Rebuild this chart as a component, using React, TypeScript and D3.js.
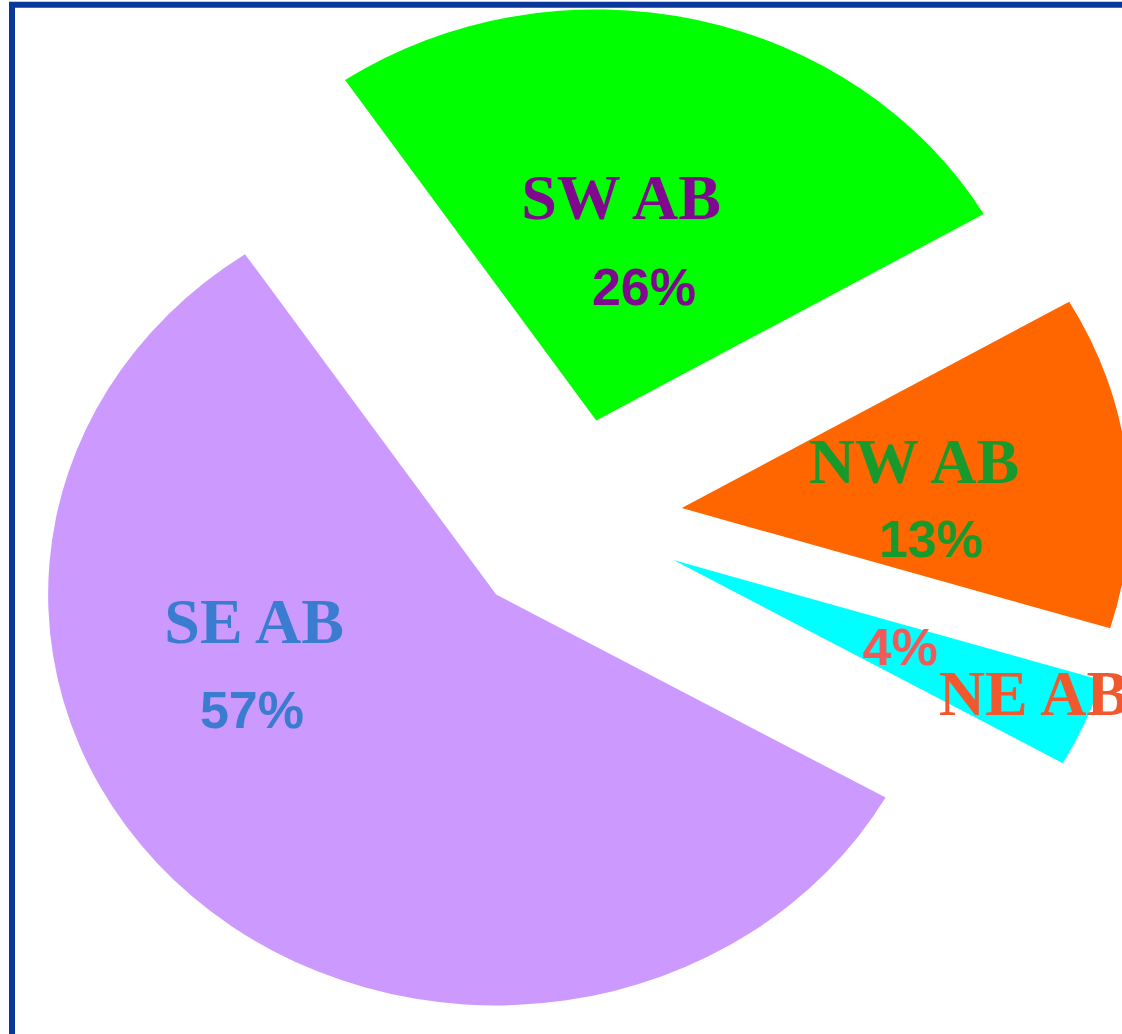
import React from "react";
import * as d3 from "d3";

// ---- data ----
const categories = ["SW AB", "NW AB", "NE AB", "SE AB"];
const values = [26.1, 13.1, 3.5, 57.3];
const fillColors = ["#00ff00", "#ff6600", "#00ffff", "#cc99ff"];
const nameColors = ["#80088f", "#179a2b", "#f2582e", "#3a7dd0"];
const pctColors = ["#80088f", "#179a2b", "#f25a5a", "#3a7dd0"];

// ---- layout ----
const W = 1122;
const H = 1034;
const CX = 571.5;
const CY = 519.7;
const R = 448;
const SY = 411 / 448;
const EXPLODE = 111;
const START_DEG = -34.1;
// label anchors, polar (deg from top clockwise, radius px in circle space) relative to pie centre
const nameLabelPolar: [number, number][] = [
  [8.6, 331.6],
  [83.3, 344.8],
  [114.7, 509],
  [247.0, 344.8],
];
const pctLabelPolar: [number, number][] = [
  [17.2, 245],
  [96.5, 361.8],
  [115.7, 364.7],
  [234.6, 392],
];

const polar = (deg: number, r: number): [number, number] => {
  const a = (deg * Math.PI) / 180;
  return [CX + r * Math.sin(a), CY - r * Math.cos(a) * SY];
};

export default function App() {
  const total = d3.sum(values);
  const start = (START_DEG * Math.PI) / 180;
  const pie = d3
    .pie<number>()
    .sort(null)
    .startAngle(start)
    .endAngle(start + 2 * Math.PI)
    .value((d) => d);
  const arcs = pie(values);
  const arcGen = d3.arc<d3.PieArcDatum<number>>().innerRadius(0).outerRadius(R);

  return (
    <svg
      width={W}
      height={H}
      style={{ position: "absolute", left: 0, top: 0, overflow: "hidden", background: "#fff" }}
    >
      <rect x={0} y={0} width={W} height={H} fill="#ffffff" />
      {arcs.map((a, i) => {
        const mid = (a.startAngle + a.endAngle) / 2;
        const ox = EXPLODE * Math.sin(mid);
        const oy = -EXPLODE * Math.cos(mid) * SY;
        return (
          <path
            key={categories[i]}
            d={arcGen(a) || ""}
            fill={fillColors[i]}
            transform={`translate(${CX + ox},${CY + oy}) scale(1,${SY})`}
          />
        );
      })}
      {arcs.map((a, i) => {
        const [nx, ny] = polar(nameLabelPolar[i][0], nameLabelPolar[i][1]);
        const [px, py] = polar(pctLabelPolar[i][0], pctLabelPolar[i][1]);
        const pct = Math.round((values[i] / total) * 100);
        return (
          <g key={"l" + categories[i]}>
            <text
              x={px}
              y={py}
              textAnchor="middle"
              fontFamily="'Liberation Sans', Arial, sans-serif"
              fontWeight="bold"
              fontSize={52}
              fill={pctColors[i]}
            >
              {pct + "%"}
            </text>
            <text
              x={nx}
              y={ny}
              textAnchor="middle"
              fontFamily="'Liberation Serif', 'Times New Roman', serif"
              fontWeight="bold"
              fontSize={64}
              fill={nameColors[i]}
            >
              {categories[i]}
            </text>
          </g>
        );
      })}
      <rect
        x={12}
        y={4.75}
        width={W + 50}
        height={H + 50}
        fill="none"
        stroke="#0a379c"
        strokeWidth={6}
      />
    </svg>
  );
}
